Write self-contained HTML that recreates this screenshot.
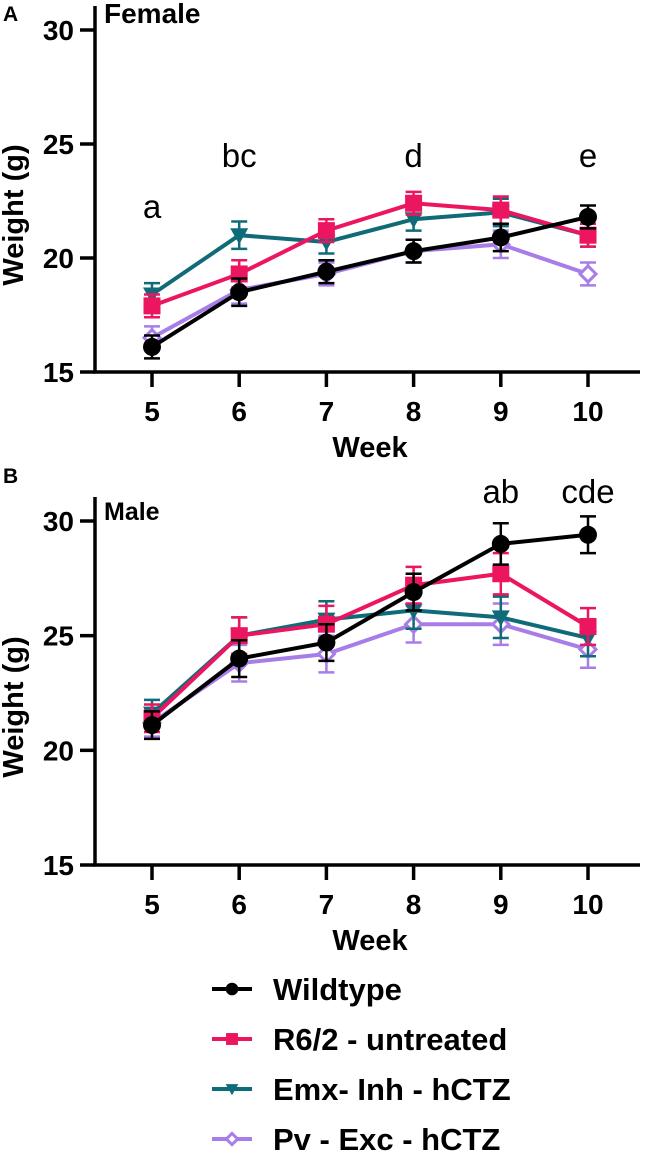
<!DOCTYPE html>
<html><head><meta charset="utf-8">
<style>
html,body{margin:0;padding:0;background:#fff;}
svg{display:block;font-family:"Liberation Sans",Arial,sans-serif;}
.tl{font-size:28px;font-weight:bold;fill:#000;}
.wk{font-size:29px;font-weight:bold;fill:#000;}
.yt{font-size:29px;font-weight:bold;fill:#000;}
.lg{font-size:31px;font-weight:bold;fill:#000;}
.an{font-size:33px;fill:#000;}
</style></head>
<body>
<svg id="chart" width="650" height="1154" viewBox="0 0 650 1154">
<g id="panelA"></g>
<g id="panelB"></g>
<g id="legend"></g>
</svg>
<script>
const weeks = [5, 6, 7, 8, 9, 10];
const yTicks = [15, 20, 25, 30];
const seriesNames = ["Wildtype", "R6/2 - untreated", "Emx- Inh - hCTZ", "Pv - Exc - hCTZ"];
const femaleWT = [16.1, 18.5, 19.4, 20.3, 20.9, 21.8];
const femaleR62 = [17.9, 19.3, 21.2, 22.4, 22.1, 21.0];
const femaleEmx = [18.4, 21.0, 20.7, 21.7, 22.0, 21.0];
const femalePv = [16.5, 18.6, 19.3, 20.3, 20.6, 19.3];
const femaleErr = [0.5, 0.6, 0.5, 0.5, 0.6, 0.5];
const maleWT = [21.1, 24.0, 24.7, 26.9, 29.0, 29.4];
const maleR62 = [21.4, 25.0, 25.5, 27.2, 27.7, 25.4];
const maleEmx = [21.6, 25.0, 25.7, 26.1, 25.8, 24.9];
const malePv = [21.2, 23.8, 24.2, 25.5, 25.5, 24.4];
const maleErr = [0.6, 0.8, 0.8, 0.8, 0.9, 0.8];
const femaleAnnot = ["a", "bc", "", "d", "", "e"];
const maleAnnot = ["", "", "", "", "ab", "cde"];

const colors = ["#000000", "#ec1660", "#0f6b78", "#a77de8"];
const markers = ["circle", "square", "tri", "diamond"];
const NS = "http://www.w3.org/2000/svg";
function mk(tag, attrs, parent){const e=document.createElementNS(NS,tag);for(const k in attrs)e.setAttribute(k,attrs[k]);parent.appendChild(e);return e;}
const xScale = w => 152 + (w - 5) * 87.2;

function marker(g, type, x, y, c, k){
  k = k || 1;
  let e;
  if(type==="circle") e=mk("circle",{cx:x,cy:y,r:9*k,fill:c},g);
  else if(type==="square") e=mk("rect",{x:x-8.5*k,y:y-8.5*k,width:17*k,height:17*k,fill:c},g);
  else if(type==="tri") e=mk("polygon",{points:`${x-9*k},${y-7*k} ${x+9*k},${y-7*k} ${x},${y+9*k}`,fill:c},g);
  else e=mk("polygon",{points:`${x},${y-8*k} ${x+8*k},${y} ${x},${y+8*k} ${x-8*k},${y}`,fill:"#fff",stroke:c,"stroke-width":3},g);
  return e;
}

function drawPanel(g, y0px, y30px, series, err, title, titleY, titleSize, letter, letterY){
  const yS = v => y0px - (v - 15) * (y0px - y30px) / 15;
  const axX = 95;
  const ax = mk("path",{d:`M${axX},${y30px-24} V${y0px} H640`,stroke:"#000","stroke-width":3.5,fill:"none"},g);
  
  
  yTicks.forEach(t=>{
    mk("line",{x1:axX-15,x2:axX,y1:yS(t),y2:yS(t),stroke:"#000","stroke-width":3.5},g);
    const tx=mk("text",{x:74,y:yS(t)+10,"text-anchor":"end",class:"tl"},g);
    tx.textContent=t;
    
    
  });
  weeks.forEach(w=>{
    mk("line",{x1:xScale(w),x2:xScale(w),y1:y0px,y2:y0px+15,stroke:"#000","stroke-width":3.5},g);
    const tx=mk("text",{x:xScale(w),y:y0px+49,"text-anchor":"middle",class:"tl"},g);
    tx.textContent=w;
    
    
  });
  const xt=mk("text",{x:370,y:y0px+85,"text-anchor":"middle",class:"wk"},g);
  xt.textContent="Week";
  
  
  const yt=mk("text",{x:0,y:0,"text-anchor":"middle",class:"yt",transform:`translate(23,${(y0px+y30px)/2+14}) rotate(-90)`},g);
  yt.textContent="Weight (g)";
  
  
  const ti=mk("text",{x:104,y:titleY,class:"tl",style:"font-size:"+titleSize+"px"},g);
  ti.textContent=title;
  
  
  const le=mk("text",{x:3,y:letterY,class:"tl",style:"font-size:21px"},g);
  le.textContent=letter;
  
  
  for(let s=series.length-1;s>=0;s--){
    const sg=mk("g",{},g);
    
    
    const c=colors[s];
    series[s].forEach((v,i)=>{
      const x=xScale(weeks[i]), e=err[i];
      mk("path",{d:`M${x},${yS(v+e)} V${yS(v-e)} M${x-8},${yS(v+e)} H${x+8} M${x-8},${yS(v-e)} H${x+8}`,stroke:c,"stroke-width":2.5,fill:"none"},sg);
    });
    const ln=mk("polyline",{points:series[s].map((v,i)=>xScale(weeks[i])+","+yS(v)).join(" "),stroke:c,"stroke-width":4,fill:"none"},sg);
    
    
    series[s].forEach((v,i)=>{
      const m=marker(sg,markers[s],xScale(weeks[i]),yS(v),c);
      
      
    });
  }
  return yS;
}

drawPanel(document.getElementById("panelA"),372,30,[femaleWT,femaleR62,femaleEmx,femalePv],femaleErr,"Female",23,28,"A",21);
drawPanel(document.getElementById("panelB"),865,521,[maleWT,maleR62,maleEmx,malePv],maleErr,"Male",520,25,"B",483);

const gA=document.getElementById("panelA"), gB=document.getElementById("panelB");
const annAY=[218,167,0,167,0,167];
femaleAnnot.forEach((a,i)=>{ if(!a) return;
  const t=mk("text",{x:xScale(weeks[i]),y:annAY[i],"text-anchor":"middle",class:"an"},gA);
  t.textContent=a;
  
  
});
maleAnnot.forEach((a,i)=>{ if(!a) return;
  const t=mk("text",{x:xScale(weeks[i]),y:503,"text-anchor":"middle",class:"an"},gB);
  t.textContent=a;
  
  
});

const lg=document.getElementById("legend");
seriesNames.forEach((n,s)=>{
  const y=989+s*50;
  const eg=mk("g",{},lg);
  
  
  mk("line",{x1:212,x2:252,y1:y,y2:y,stroke:colors[s],"stroke-width":4},eg);
  marker(eg,markers[s],232,y,colors[s],0.7);
  const t=mk("text",{x:273,y:y+11,class:"lg"},eg);
  t.textContent=n;
});
</script>
</body></html>
